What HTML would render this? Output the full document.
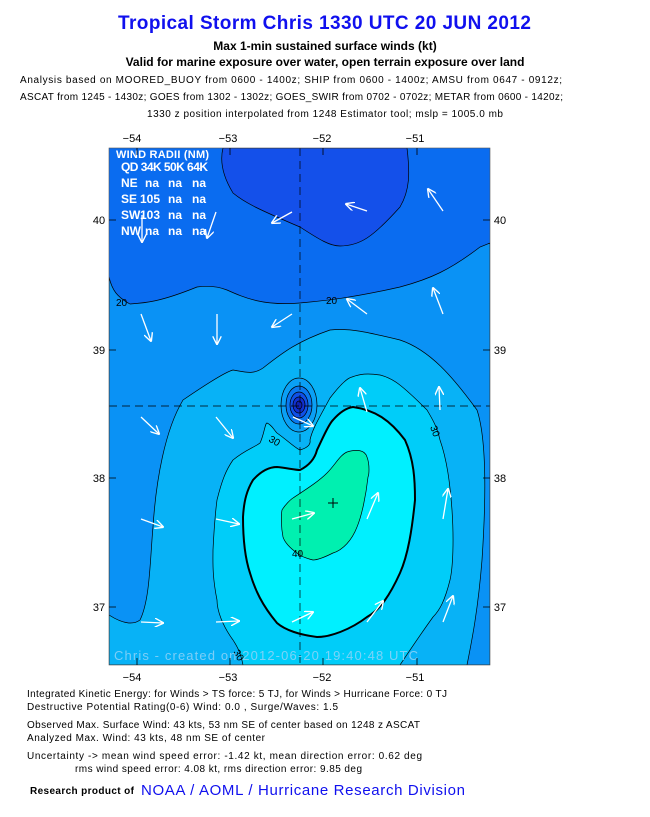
<!DOCTYPE html>
<html><head><meta charset="utf-8"><style>
body{margin:0;background:#fff;width:650px;height:817px;overflow:hidden}
svg{display:block}
text{font-family:"Liberation Sans",sans-serif}
</style></head><body>
<svg width="650" height="817" viewBox="0 0 650 817">
<defs>
<clipPath id="pc"><rect x="109" y="148" width="381" height="517"/></clipPath>
<marker id="ah" viewBox="0 0 10 10" refX="9" refY="5" markerWidth="7" markerHeight="7" orient="auto"><path d="M0,0 L10,5 L0,10" fill="none" stroke="#fff" stroke-width="1.5"/></marker>
</defs>
<text x="118" y="29" textLength="413" font-size="19" font-weight="bold" fill="#1010ee">Tropical Storm Chris 1330 UTC 20 JUN 2012</text>
<text x="325" y="50" text-anchor="middle" font-size="12" font-weight="bold">Max 1-min sustained surface winds (kt)</text>
<text x="325" y="66" text-anchor="middle" font-size="12" font-weight="bold">Valid for marine exposure over water, open terrain exposure over land</text>
<text x="20" y="83" font-size="10" textLength="542">Analysis based on MOORED_BUOY from 0600 - 1400z; SHIP from 0600 - 1400z; AMSU from 0647 - 0912z;</text>
<text x="20" y="100" font-size="10" textLength="543">ASCAT from 1245 - 1430z; GOES from 1302 - 1302z; GOES_SWIR from 0702 - 0702z; METAR from 0600 - 1420z;</text>
<text x="147" y="117" font-size="10" textLength="356">1330 z position interpolated from 1248 Estimator tool; mslp = 1005.0 mb</text>
<g clip-path="url(#pc)" stroke="#000" stroke-width="0.7">
<rect x="109" y="148" width="381" height="517" fill="#0a6cf0" stroke="none"/>
<path d="M109,277 C112,290 117,297 130,304 C145,303 160,302 197,287 C212,285 222,288 227,290 C245,298 263,306 300,303 C320,301 347,299 400,287 C430,279 450,270 480,247 L490,243 L490,665 L109,665 Z" fill="#0a92f5"/>
<path d="M223,148 C220,160 222,175 233,193 C245,203 260,210 300,227 C320,240 330,246 340,246 C360,246 373,237 400,207 C410,190 410,173 407,148 Z" fill="#1450ea"/>
<path d="M109,615 C120,622 132,626 140,620 C150,600 150,560 153,527 C156,480 165,430 183,400 C205,385 225,372 233,370 C245,372 253,375 263,368 C280,355 295,342 330,330 C350,328 367,332 400,340 C430,350 453,377 477,410 C487,440 486,500 482,560 C478,610 472,640 467,665 L109,665 Z" fill="#08b2f6"/>
<path d="M243,665 C240,650 236,645 233,640 C222,625 217,610 217,600 C212,575 213,560 213,550 C214,530 215,515 217,500 C222,480 226,470 233,460 C245,450 255,447 260,443 C264,435 265,423 267,423 C272,425 274,430 277,433 C287,440 295,448 300,450 C307,448 311,445 310,440 C312,430 318,420 330,398 C340,385 347,378 352,377 C360,374 367,373 380,375 C392,378 400,383 427,410 C433,420 437,427 440,440 C447,460 450,483 452,510 C454,540 453,567 450,580 C445,600 440,610 433,617 C420,635 410,650 400,665 Z" fill="#00cdf9"/>
<path d="M353,407 C375,410 390,420 405,440 C414,460 415,480 415,500 C412,530 408,555 400,573 C390,595 380,610 367,617 C350,630 330,637 317,637 C300,635 285,630 277,623 C262,605 255,590 250,573 C244,555 243,535 243,517 C244,500 247,490 253,480 C262,470 270,467 277,467 C287,468 295,470 300,470 C310,465 315,458 317,450 C322,440 328,425 333,420 C340,412 346,408 353,407 Z" fill="#00f0ff" stroke-width="2"/>
<path d="M282,510 C285,505 290,500 293,498 C305,490 318,482 327,473 C335,465 340,455 347,452 C357,449 365,450 367,457 C370,465 369,475 368,477 C366,495 362,515 357,527 C352,540 343,550 333,553 C325,557 318,560 313,560 C305,558 300,556 297,553 C290,548 285,543 283,537 C281,527 281,515 282,510 Z" fill="#00f0b0"/>
<ellipse cx="299" cy="405" rx="18" ry="27" fill="#0aa0f5"/>
<ellipse cx="299" cy="405" rx="13" ry="19" fill="#0a78f0"/>
<ellipse cx="299" cy="405" rx="9" ry="13" fill="#1050e8"/>
<ellipse cx="299" cy="405" rx="6" ry="8" fill="#1030d0"/>
<ellipse cx="299" cy="405" rx="3" ry="4" fill="#1020b0"/>
</g>
<g stroke="#000" stroke-width="0.7" stroke-dasharray="8,5" fill="none">
<line x1="300" y1="148" x2="300" y2="665"/><line x1="109" y1="406" x2="490" y2="406"/>
</g>
<path d="M328,503 h10 M333,498 v10" stroke="#000" stroke-width="1"/>
<g font-size="10" fill="#000">
<text x="116" y="306">20</text><text x="326" y="304">20</text>
<text x="268" y="441" transform="rotate(30 268 441)">30</text><text x="430" y="427" transform="rotate(70 430 427)">30</text>
<text x="233" y="652" transform="rotate(60 233 652)">30</text><text x="292" y="557">40</text>
</g>
<g stroke="#fff" stroke-width="1.3" marker-end="url(#ah)">
<line x1="292" y1="212" x2="272" y2="223"/><line x1="367" y1="211" x2="346" y2="204"/><line x1="443" y1="211" x2="428" y2="189"/>
<line x1="142" y1="215" x2="142" y2="242"/><line x1="216" y1="212" x2="207" y2="238"/>
<line x1="141" y1="314" x2="151" y2="341"/><line x1="217" y1="314" x2="217" y2="344"/><line x1="292" y1="314" x2="272" y2="327"/><line x1="367" y1="314" x2="347" y2="299"/><line x1="443" y1="314" x2="433" y2="288"/>
<line x1="367" y1="412" x2="360" y2="388"/><line x1="440" y1="410" x2="439" y2="387"/>
<line x1="141" y1="417" x2="159" y2="434"/><line x1="216" y1="417" x2="233" y2="438"/><line x1="293" y1="417" x2="313" y2="426"/>
<line x1="141" y1="519" x2="163" y2="527"/><line x1="216" y1="519" x2="239" y2="524"/><line x1="292" y1="519" x2="314" y2="513"/><line x1="367" y1="519" x2="378" y2="493"/><line x1="443" y1="519" x2="448" y2="489"/>
<line x1="141" y1="622" x2="163" y2="623"/><line x1="216" y1="622" x2="239" y2="621"/><line x1="292" y1="622" x2="313" y2="612"/><line x1="367" y1="622" x2="383" y2="601"/><line x1="443" y1="622" x2="453" y2="596"/>
</g>
<g fill="#fff" font-size="12" font-weight="bold">
<text x="116" y="158" font-size="11" textLength="93">WIND RADII (NM)</text>
<text x="121" y="171" textLength="87">QD 34K 50K 64K</text>
<text x="121" y="187">NE</text><text x="145" y="187">na</text><text x="168" y="187">na</text><text x="192" y="187">na</text>
<text x="121" y="203">SE</text><text x="140" y="203">105</text><text x="168" y="203">na</text><text x="192" y="203">na</text>
<text x="121" y="219">SW</text><text x="140" y="219">103</text><text x="168" y="219">na</text><text x="192" y="219">na</text>
<text x="121" y="235">NW</text><text x="145" y="235">na</text><text x="168" y="235">na</text><text x="192" y="235">na</text>
</g>
<text x="114" y="660" font-size="13" fill="#9ad4f8" fill-opacity="0.8" textLength="304">Chris - created on 2012-06-20 19:40:48 UTC</text>
<rect x="109" y="148" width="381" height="517" fill="none" stroke="#555" stroke-width="0.6"/>
<g stroke="#000" stroke-width="0.8">
<path d="M137,148v7M230,148v7M323,148v7M417,148v7M137,665v-7M230,665v-7M323,665v-7M417,665v-7M109,220h7M109,350h7M109,478h7M109,607h7M490,220h-7M490,350h-7M490,478h-7M490,607h-7"/>
</g>
<g font-size="11" fill="#000" text-anchor="middle">
<text x="132" y="142">−54</text><text x="228" y="142">−53</text><text x="322" y="142">−52</text><text x="415" y="142">−51</text>
<text x="132" y="681">−54</text><text x="228" y="681">−53</text><text x="322" y="681">−52</text><text x="415" y="681">−51</text>
<text x="99" y="224">40</text><text x="99" y="354">39</text><text x="99" y="482">38</text><text x="99" y="611">37</text>
<text x="500" y="224">40</text><text x="500" y="354">39</text><text x="500" y="482">38</text><text x="500" y="611">37</text>
</g>
<g font-size="10" fill="#000">
<text x="27" y="697" textLength="420">Integrated Kinetic Energy: for Winds &gt; TS force: 5 TJ, for Winds &gt; Hurricane Force: 0 TJ</text>
<text x="27" y="710" textLength="311">Destructive Potential Rating(0-6)   Wind: 0.0 , Surge/Waves: 1.5</text>
<text x="27" y="728" textLength="393">Observed Max. Surface Wind: 43 kts, 53 nm SE of center based on 1248 z ASCAT</text>
<text x="27" y="741" textLength="238">Analyzed Max. Wind: 43 kts, 48 nm  SE of center</text>
<text x="27" y="759" textLength="395">Uncertainty -&gt; mean wind speed error:  -1.42 kt, mean direction error: 0.62 deg</text>
<text x="75" y="772" textLength="287">rms wind speed error: 4.08 kt, rms direction error: 9.85 deg</text>
<text x="30" y="794" font-weight="bold" textLength="104">Research product of</text>
</g>
<text x="141" y="795" font-size="15" fill="#1010ee" textLength="324">NOAA / AOML / Hurricane Research Division</text>
</svg>
</body></html>
